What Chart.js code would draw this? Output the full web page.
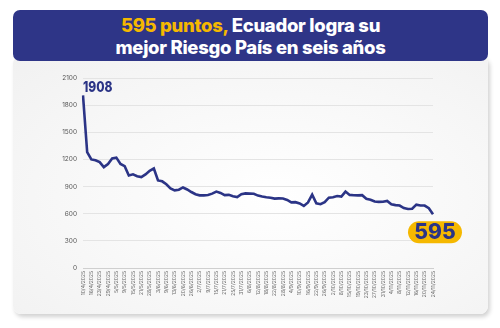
<!DOCTYPE html>
<html>
<head>
<meta charset="utf-8">
<script src="https://cdn.jsdelivr.net/npm/chart.js@4.4.1/dist/chart.umd.min.js"></script>
<style>
  html, body { margin: 0; padding: 0; background: #fff; }
  #wrap { position: relative; width: 500px; height: 328px; overflow: hidden; font-family: Inter, Roboto, sans-serif; }
  #card {
    position: absolute; left: 13px; top: 56px; width: 475px; height: 258px;
    border-radius: 8px;
    background: radial-gradient(ellipse at 55% 55%, #ffffff 0%, #f9f9f9 45%, #f1f1f1 100%);
    box-shadow: 2px 3px 4px rgba(0,0,0,0.18);
  }
  #banner {
    position: absolute; left: 13px; top: 10px; width: 475px; height: 51px;
    background: #2e3587; border-radius: 7px;
    color: #fff; text-align: center; font-weight: 800; font-size: 18.5px; line-height: 22px;
    padding-top: 4px; box-sizing: border-box; letter-spacing: -0.3px;
  }
  #banner .hl { color: #f5b800; }
  canvas { position: absolute; left: 0; top: 0; }
</style>
</head>
<body>
<div id="wrap">
  <div id="card"></div>
  <div id="banner"><span class="hl">595 puntos,</span> Ecuador logra su<br>mejor Riesgo País en seis años</div>
  <canvas id="myChart" width="500" height="328"></canvas>
</div>
<script>
// Fechas visibles en el eje X
const fechas = [
  '10/4/2025', '16/4/2025', '23/4/2025', '29/4/2025', '5/5/2025', '9/5/2025', '15/5/2025',
  '21/5/2025', '28/5/2025', '3/6/2025', '9/6/2025', '13/6/2025', '20/6/2025', '26/6/2025',
  '2/7/2025', '9/7/2025', '15/7/2025', '21/7/2025', '25/7/2025', '31/7/2025', '6/8/2025',
  '12/8/2025', '18/8/2025', '22/8/2025', '28/8/2025', '4/9/2025', '10/9/2025', '16/9/2025',
  '22/9/2025', '26/9/2025', '2/10/2025', '8/10/2025', '15/10/2025', '19/10/2025', '23/10/2025',
  '27/10/2025', '31/10/2025', '4/11/2025', '8/11/2025', '12/11/2025', '16/11/2025',
  '20/11/2025', '24/11/2025'
];

// Riesgo País (puntos), dos lecturas por cada fecha visible
const riesgo = [
  1908, 1280, 1200, 1190, 1170, 1115, 1150, 1210, 1220, 1150,
  1125, 1023, 1035, 1015, 1005, 1035, 1075, 1100, 968, 958,
  925, 880, 858, 865, 890, 868, 840, 815, 803, 803,
  807, 822, 845, 830, 805, 808, 792, 784, 815, 825,
  822, 820, 800, 790, 782, 776, 767, 769, 768, 752,
  725, 728, 714, 686, 725, 810, 715, 705, 728, 777,
  782, 795, 790, 845, 808, 804, 803, 805, 766, 755,
  735, 731, 732, 742, 705, 695, 690, 662, 652, 655,
  700, 690, 690, 660, 595
];

const yTicks = [0, 300, 600, 900, 1200, 1500, 1800, 2100];

const navy = '#2b3486';
const amarillo = '#f5b800';

// Una etiqueta por cada punto; solo las fechas visibles llevan texto
const labels = riesgo.map((_, i) => (i % 2 === 0 ? fechas[i / 2] : ''));

const etiquetas = {
  id: 'etiquetas',
  afterDatasetsDraw(chart) {
    const ctx = chart.ctx;
    const meta = chart.getDatasetMeta(0);
    const first = meta.data[0];
    const last = meta.data[meta.data.length - 1];

    // valor inicial (letra condensada)
    ctx.save();
    ctx.fillStyle = navy;
    ctx.font = '800 15px Inter, Roboto, sans-serif';
    ctx.textAlign = 'left';
    ctx.textBaseline = 'middle';
    ctx.translate(first.x, first.y - 8);
    ctx.scale(0.8, 1);
    ctx.fillText(String(riesgo[0]), 0, 0);
    ctx.restore();

    // valor final en una pastilla amarilla
    ctx.save();
    const w = 54, h = 22;
    const bx = last.x - 25, by = last.y + 7;
    ctx.fillStyle = amarillo;
    ctx.beginPath();
    ctx.roundRect(bx, by, w, h, h / 2);
    ctx.fill();
    ctx.fillStyle = navy;
    ctx.font = '800 21px Inter, Roboto, sans-serif';
    ctx.textAlign = 'center';
    ctx.textBaseline = 'middle';
    ctx.fillText(String(riesgo[riesgo.length - 1]), bx + w / 2, by + h / 2 + 1);
    ctx.restore();
  }
};

const ctx = document.getElementById('myChart').getContext('2d');
new Chart(ctx, {
  type: 'line',
  data: {
    labels: labels,
    datasets: [{
      data: riesgo,
      borderColor: navy,
      borderWidth: 2.6,
      pointRadius: 0,
      tension: 0,
      fill: false
    }]
  },
  options: {
    responsive: false,
    animation: false,
    layout: { padding: { left: 48, right: 67, top: 78, bottom: 20 } },
    plugins: { legend: { display: false }, tooltip: { enabled: false } },
    scales: {
      x: {
        grid: { display: false, drawTicks: false },
        border: { color: '#cfcfcf', dash: [1, 1] },
        ticks: {
          autoSkip: false,
          maxRotation: 90,
          minRotation: 90,
          padding: 3,
          color: '#6a6a6a',
          font: { family: 'Inter, Roboto, sans-serif', size: 5 }
        },
        afterFit(scale) { scale.height = 40; }
      },
      y: {
        min: 0,
        max: 2100,
        afterBuildTicks(scale) { scale.ticks = yTicks.map(v => ({ value: v })); },
        grid: { color: '#e4e4e4', drawTicks: false },
        border: { display: false },
        ticks: {
          padding: 6,
          color: '#555',
          font: { family: 'Inter, Roboto, sans-serif', size: 6.5 },
          callback: (v) => String(v)
        },
        afterFit(scale) { scale.width = 35; }
      }
    }
  },
  plugins: [etiquetas]
});
</script>
</body>
</html>
